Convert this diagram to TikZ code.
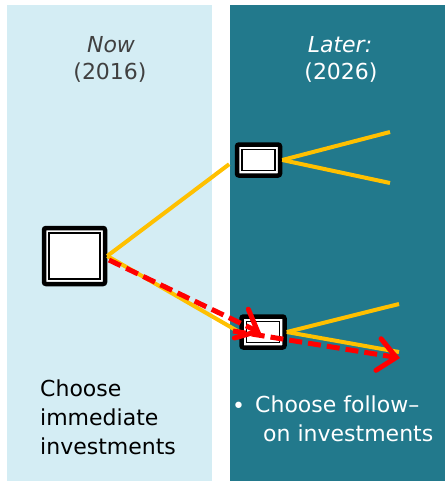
\documentclass[tikz,border=0pt]{standalone}
\usepackage{fontspec}
\setmainfont{DejaVu Sans}
\usetikzlibrary{arrows.meta}
\definecolor{lightpanel}{HTML}{D4EDF4}
\definecolor{darkpanel}{HTML}{22798C}
\definecolor{txtgray}{HTML}{404040}
\definecolor{yel}{HTML}{FFC000}
\definecolor{redline}{HTML}{FF0000}
\tikzset{
  decbox/.style={draw=black, line width=4.5pt, fill=white, rounded corners=2pt, inner sep=0pt},
  innerbox/.style={draw=black, line width=1.2pt, inner sep=0pt},
  bigbox/.style={decbox, minimum width=61pt, minimum height=56pt},
  smallbox/.style={decbox, minimum width=43pt, minimum height=31pt},
  branch/.style={draw=yel, line width=4pt},
  redarrow/.style={draw=redline, line width=5pt, dash pattern=on 13pt off 6pt,
    -{Straight Barb[length=18pt,width=32pt,line cap=round]}},
  lbl/.style={inner sep=0pt, font=\fontsize{22}{29}\selectfont, align=left},
  hdr/.style={inner sep=0pt, font=\fontsize{22}{27}\selectfont, align=center}
}
\begin{document}
\begin{tikzpicture}[x=1pt,y=-1pt]
\useasboundingbox (0,0) rectangle (445,482);
\fill[lightpanel] (7,5) rectangle (212,481);
\fill[darkpanel] (230,5) rectangle (445,481);
% headers
\node[hdr, text=txtgray, anchor=base] (now) at (111,52) {\itshape Now};
\node[hdr, text=txtgray, anchor=base] (nowyr) at (110,79) {(2016)};
\node[hdr, text=white, anchor=base] (later) at (340,52) {\itshape Later:};
\node[hdr, text=white, anchor=base] (lateryr) at (341,79) {(2026)};
% boxes
\node[bigbox] (root) at (74.5,256) {};
\node[innerbox, minimum width=51pt, minimum height=46pt] (rootin) at (root.center) {};
\node[smallbox] (up) at (258.5,160) {};
\node[innerbox, minimum width=33pt, minimum height=21pt] (upin) at (up.center) {};
\node[smallbox] (down) at (263,332) {};
\node[innerbox, minimum width=33pt, minimum height=21pt] (downin) at (down.center) {};
% branch end points
\coordinate (u1) at (390,132);
\coordinate (u2) at (390,183);
\coordinate (d1) at (399,304);
\coordinate (d2) at (399,352);
\coordinate (r1s) at (109,260);
\coordinate (r1e) at (261,333);
\coordinate (r2s) at (233,331);
\coordinate (r2e) at (400,358);
% yellow branches
\draw[branch, shorten >=7pt] (root.east) -- (up.west);
\draw[branch] (root.east) -- (down.west);
\draw[branch] (up.east) -- (u1);
\draw[branch] (up.east) -- (u2);
\draw[branch] (down.east) -- (d1);
\draw[branch] (down.east) -- (d2);
% red dashed arrows
\draw[redarrow] (r1s) -- (r1e);
\draw[redarrow] (r2s) -- (r2e);
% bottom texts
\node[lbl, anchor=north west] (left) at (40,380) {Choose\\immediate\\investments};
\node[lbl, text=white, anchor=base west] (bul) at (232,413) {•};
\node[lbl, text=white, anchor=north west] (right) at (255,396) {Choose follow–\\\hspace*{8pt}on investments};
\end{tikzpicture}
\end{document}
